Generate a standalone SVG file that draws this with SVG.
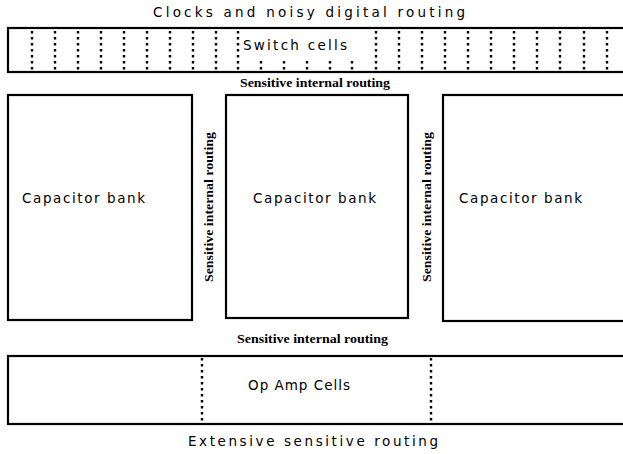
<svg xmlns="http://www.w3.org/2000/svg" width="623" height="454" viewBox="0 0 623 454">
  <style>
    .box { fill: #fff; stroke: #000; stroke-width: 2.2; }
    .cut { fill: none; stroke: #000; stroke-width: 2.4; stroke-dasharray: 2.6 3.4; }
    .lbl { font-family: "DejaVu Sans", "Liberation Sans", sans-serif; font-size: 13.5px; fill: #000; }
    .route { font-family: "Liberation Serif", serif; font-weight: bold; font-size: 12px; fill: #000; }
  </style>
  <rect width="623" height="454" fill="#fff"/>

  <!-- top routing channel label -->
  <text class="lbl" x="153" y="17" textLength="312" lengthAdjust="spacing">Clocks and noisy digital routing</text>

  <!-- switch cell row -->
  <g id="switch-cells">
    <rect class="box" x="8" y="28" width="630" height="44"/>
    <path class="cut" d="M32 31V71 M55 31V71 M78 31V71 M101 31V71 M124 31V71 M147 31V71 M170 31V71 M193 31V71 M216 31V71 M238 31V71
             M376 31V71 M399 31V71 M422 31V71 M445 31V71 M468 31V71 M491 31V71 M514 31V71 M537 31V71 M560 31V71 M584 31V71 M607 31V71"/>
    <path class="cut" d="M261 61V71 M284 61V71 M307 61V71 M330 61V71 M352 61V71"/>
    <text class="lbl" x="243" y="50" textLength="104" lengthAdjust="spacing">Switch cells</text>
  </g>

  <text class="route" x="240" y="87" textLength="150" lengthAdjust="spacingAndGlyphs">Sensitive internal routing</text>

  <!-- capacitor banks -->
  <g id="cap-bank-1">
    <rect class="box" x="8" y="95" width="184" height="225"/>
    <text class="lbl" x="22" y="203" textLength="123" lengthAdjust="spacing">Capacitor bank</text>
  </g>
  <g id="cap-bank-2">
    <rect class="box" x="226" y="95" width="182" height="223"/>
    <text class="lbl" x="253" y="203" textLength="123" lengthAdjust="spacing">Capacitor bank</text>
  </g>
  <g id="cap-bank-3">
    <rect class="box" x="443" y="95" width="200" height="226"/>
    <text class="lbl" x="459" y="203" textLength="123" lengthAdjust="spacing">Capacitor bank</text>
  </g>

  <!-- vertical routing channels between banks -->
  <text class="route" transform="translate(213,282) rotate(-90)" x="0" y="0" textLength="150" lengthAdjust="spacingAndGlyphs">Sensitive internal routing</text>
  <text class="route" transform="translate(431,282) rotate(-90)" x="0" y="0" textLength="150" lengthAdjust="spacingAndGlyphs">Sensitive internal routing</text>

  <text class="route" x="237" y="343" textLength="151" lengthAdjust="spacingAndGlyphs">Sensitive internal routing</text>

  <!-- op amp row -->
  <g id="op-amp-cells">
    <rect class="box" x="8" y="356" width="630" height="68"/>
    <path class="cut" d="M202 358V423 M431 358V423"/>
    <text class="lbl" x="248" y="390" textLength="102" lengthAdjust="spacing">Op Amp Cells</text>
  </g>

  <text class="lbl" x="188" y="446" textLength="250" lengthAdjust="spacing">Extensive sensitive routing</text>
</svg>
